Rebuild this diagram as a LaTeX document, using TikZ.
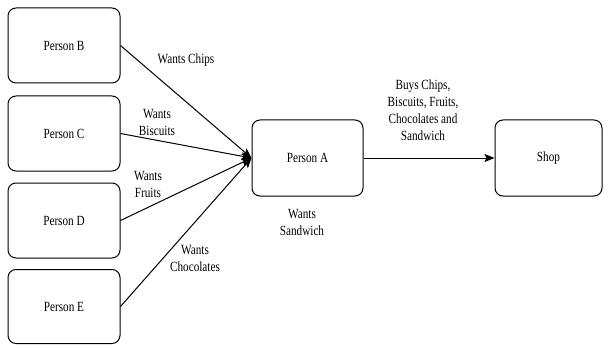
\documentclass[tikz,border=0pt]{standalone}
\usepackage{fontspec}
\setmainfont[FakeStretch=0.8]{Liberation Serif}
\usetikzlibrary{arrows.meta}
\tikzset{
  box/.style={draw=black, line width=1pt, rounded corners=8pt, fill=white, inner sep=0pt, font=\fontsize{14}{17}\selectfont},
  lbl/.style={align=center, inner sep=0pt, font=\fontsize{14}{17}\selectfont},
  conn/.style={line width=1pt, -{Stealth[length=10pt,width=8pt,inset=2pt]}}
}
\begin{document}
\begin{tikzpicture}[x=1pt,y=-1pt]
\useasboundingbox (0,0) rectangle (603,345);
\node[box, minimum width=112pt, minimum height=75pt] (B) at (64,45.5) {Person B};
\node[box, minimum width=112pt, minimum height=75pt] (C) at (64,133.5) {Person C};
\node[box, minimum width=112pt, minimum height=75pt] (D) at (64,220.5) {Person D};
\node[box, minimum width=112pt, minimum height=74pt] (E) at (64,306.5) {Person E};
\node[box, minimum width=111pt, minimum height=76pt] (A) at (307.5,158) {Person A};
\node[box, minimum width=107pt, minimum height=76pt] (S) at (548.5,158) {Shop};
\draw[conn] (B.east) -- (A.west);
\draw[conn] (C.east) -- (A.west);
\draw[conn] (D.east) -- (A.west);
\draw[conn] (E.east) -- (A.west);
\draw[conn] (A.east) -- (S.west);
\node[lbl] (l1) at (186,60) {Wants Chips};
\node[lbl] (l2) at (157,122) {Wants\\Biscuits};
\node[lbl] (l3) at (148,184) {Wants\\Fruits};
\node[lbl] (l4) at (195,258) {Wants\\Chocolates};
\node[lbl] (l5) at (302,222) {Wants\\Sandwich};
\node[lbl] (l6) at (423,110) {Buys Chips,\\Biscuits, Fruits,\\Chocolates and\\Sandwich};
\end{tikzpicture}
\end{document}
